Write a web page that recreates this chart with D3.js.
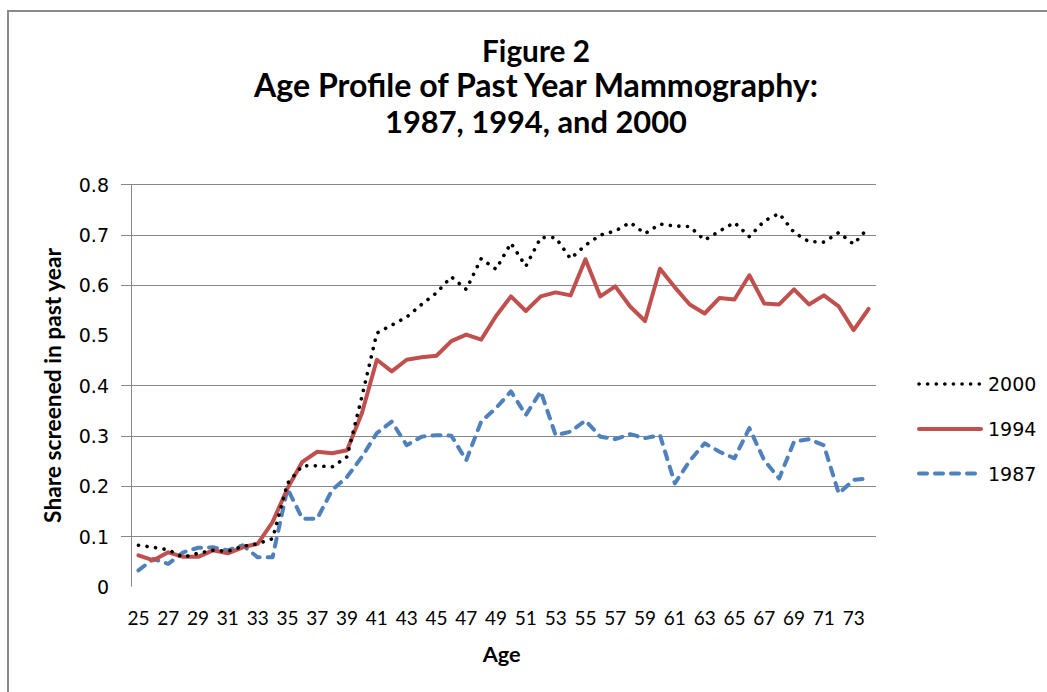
<!DOCTYPE html>
<html>
<head>
<meta charset="utf-8">
<script src="https://cdn.jsdelivr.net/npm/d3@7"></script>
<style>
html,body{margin:0;padding:0;background:#fff;}
svg{display:block;}
</style>
</head>
<body>
<svg id="chart" width="1047" height="692"></svg>
<script>
// ---- data ----
const ages = d3.range(25, 75);
const xTickLabels = d3.range(25, 75, 2);
const yTicks = [0, 0.1, 0.2, 0.3, 0.4, 0.5, 0.6, 0.7, 0.8];
const seriesNames = ["2000", "1994", "1987"];
const y2000 = [0.082,0.078,0.073,0.058,0.066,0.072,0.070,0.080,0.085,0.095,
               0.205,0.240,0.240,0.238,0.258,0.378,0.504,0.520,0.536,0.561,
               0.584,0.616,0.591,0.652,0.631,0.683,0.637,0.694,0.694,0.652,
               0.679,0.699,0.707,0.724,0.702,0.721,0.717,0.716,0.689,0.707,
               0.724,0.696,0.727,0.742,0.704,0.686,0.685,0.704,0.681,0.714];
const y1994 = [0.062,0.052,0.068,0.059,0.059,0.072,0.066,0.078,0.085,0.128,
               0.195,0.248,0.268,0.265,0.271,0.345,0.451,0.428,0.451,0.456,
               0.459,0.488,0.501,0.491,0.538,0.577,0.548,0.577,0.585,0.579,
               0.651,0.577,0.597,0.557,0.528,0.632,0.595,0.561,0.543,0.574,
               0.571,0.619,0.563,0.561,0.591,0.561,0.579,0.557,0.510,0.552];
const y1987 = [0.032,0.055,0.045,0.068,0.077,0.078,0.072,0.082,0.058,0.058,
               0.195,0.135,0.135,0.192,0.218,0.258,0.305,0.328,0.281,0.298,
               0.301,0.300,0.251,0.328,0.355,0.388,0.341,0.388,0.301,0.308,
               0.330,0.298,0.293,0.303,0.295,0.301,0.205,0.250,0.285,0.268,
               0.255,0.315,0.251,0.215,0.288,0.293,0.281,0.185,0.212,0.215];
const titleLines = ["Figure 2", "Age Profile of Past Year Mammography:", "1987, 1994, and 2000"];
const yAxisTitle = "Share screened in past year";
const xAxisTitle = "Age";

// ---- layout ----
const svg = d3.select("#chart");
const plot = {left: 131, right: 876, top: 184.3, bottom: 586.5};
const x = d3.scaleBand().domain(ages).range([plot.left, plot.right]);
const y = d3.scaleLinear().domain([0, 0.8]).range([plot.bottom, plot.top]);
const cx = a => x(a) + x.bandwidth() / 2;

const styles = {
  "2000": {color: "#000000", width: 3.6, dash: "0.1,8.5", cap: "round"},
  "1994": {color: "#C0504D", width: 4, dash: null, cap: "round"},
  "1987": {color: "#4F81BD", width: 4, dash: "8,8", cap: "round"}
};
const dataBySeries = {"2000": y2000, "1994": y1994, "1987": y1987};

function fitText(sel, target) {
  const node = sel.node();
  const fs = parseFloat(sel.attr("font-size"));
  const w = node.getComputedTextLength();
  if (w > 0) sel.attr("font-size", fs * target / w);
}

// outer border (top & left visible)
svg.append("line").attr("x1", 8).attr("x2", 1047).attr("y1", 11).attr("y2", 11)
  .attr("stroke", "#8a8a8a").attr("stroke-width", 2);
svg.append("line").attr("x1", 8).attr("x2", 8).attr("y1", 10).attr("y2", 692)
  .attr("stroke", "#8a8a8a").attr("stroke-width", 2);

// gridlines (no line visible at 0 and 0.5 in the reference)
svg.append("g").selectAll("line")
  .data(yTicks.filter(t => t !== 0 && t !== 0.5))
  .join("line")
  .attr("x1", plot.left - 10).attr("x2", plot.right)
  .attr("y1", d => Math.round(y(d)) + 0.5).attr("y2", d => Math.round(y(d)) + 0.5)
  .attr("stroke", "#888").attr("stroke-width", 1);

// y axis line
svg.append("line").attr("x1", plot.left + 0.5).attr("x2", plot.left + 0.5)
  .attr("y1", plot.top).attr("y2", plot.bottom)
  .attr("stroke", "#888").attr("stroke-width", 1);

// y axis tick labels via d3 axis
const yAxis = d3.axisLeft(y).tickValues(yTicks).tickFormat(d => d === 0 ? "0" : d3.format(".1f")(d)).tickSize(0).tickPadding(0);
const gy = svg.append("g").attr("transform", "translate(109,0)").call(yAxis);
gy.select(".domain").remove();
gy.selectAll("text").attr("font-family", "DejaVu Sans").attr("font-size", 19).attr("fill", "#000").attr("dy", "0.36em");

// x axis tick labels via d3 axis
const xAxis = d3.axisBottom(x).tickValues(xTickLabels).tickSize(0).tickPadding(0);
const gx = svg.append("g").attr("transform", "translate(0,611)").call(xAxis);
gx.select(".domain").remove();
gx.selectAll("text").attr("font-family", "Lato").attr("font-size", 19).attr("fill", "#000").attr("dy", "0.71em");

// lines
const line = d3.line().x((d, i) => cx(ages[i])).y(d => y(d));
["1987", "1994", "2000"].forEach(name => {
  const s = styles[name];
  svg.append("path").datum(dataBySeries[name])
    .attr("d", line).attr("fill", "none")
    .attr("stroke", s.color).attr("stroke-width", s.width)
    .attr("stroke-linecap", s.cap).attr("stroke-linejoin", "round")
    .attr("stroke-dasharray", s.dash);
});

// titles
const titleBaselines = [62, 97, 132.5];
const titleWidths = [108, 564, 302];
titleLines.forEach((t, i) => {
  const tx = svg.append("text").attr("x", 536).attr("y", titleBaselines[i])
    .attr("text-anchor", "middle").attr("font-family", "Lato").attr("font-weight", "bold")
    .attr("font-size", 25).attr("fill", "#000").text(t);
  fitText(tx, titleWidths[i]);
});

// axis titles
const yt = svg.append("text").attr("transform", "translate(61,385.5) rotate(-90)")
  .attr("text-anchor", "middle").attr("font-family", "Lato").attr("font-weight", "bold")
  .attr("font-size", 18).attr("fill", "#000").text(yAxisTitle);
fitText(yt, 275);
const xt = svg.append("text").attr("x", 501.7).attr("y", 661.5)
  .attr("text-anchor", "middle").attr("font-family", "Lato").attr("font-weight", "bold")
  .attr("font-size", 20).attr("fill", "#000").text(xAxisTitle);
fitText(xt, 38);

// legend
const legendY = [384, 429, 473.5];
seriesNames.forEach((name, i) => {
  const s = styles[name];
  svg.append("line").attr("x1", 919).attr("x2", 981).attr("y1", legendY[i]).attr("y2", legendY[i])
    .attr("stroke", s.color).attr("stroke-width", s.width)
    .attr("stroke-linecap", s.cap).attr("stroke-dasharray", s.dash);
  svg.append("text").attr("x", 988).attr("y", legendY[i] + 7)
    .attr("font-family", "DejaVu Sans").attr("font-size", 19).attr("fill", "#000").text(name);
});
</script>
</body>
</html>
